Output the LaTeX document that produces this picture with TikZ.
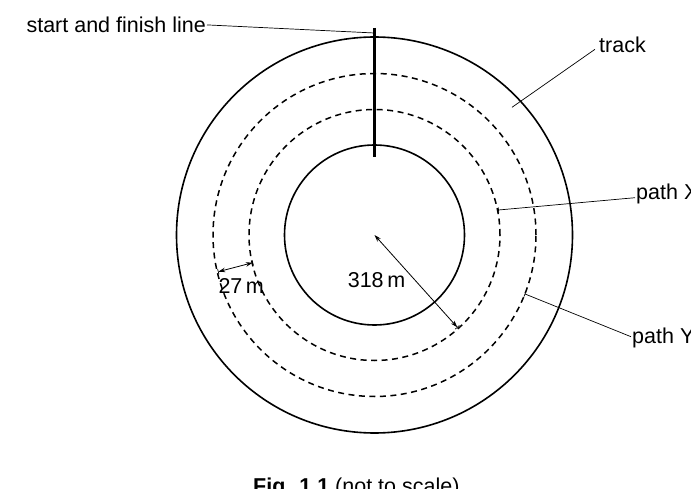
\documentclass[tikz,border=0pt]{standalone}
\usepackage{fontspec}
\setmainfont{Liberation Sans}
\usetikzlibrary{arrows.meta,calc}
\begin{document}
\begin{tikzpicture}[x=1pt,y=-1pt,
  ring/.style={line width=1.6pt},
  pathring/.style={line width=1.5pt, dash pattern=on 6pt off 4.5pt},
  leader/.style={line width=0.7pt},
  dimarrow/.style={line width=0.8pt, {Stealth[length=7pt,width=4.5pt]}-{Stealth[length=7pt,width=4.5pt]}},
  lbl/.style={font=\fontsize{21.5}{24}\selectfont, inner sep=0pt, text depth=0pt},
]
\useasboundingbox (0,0) rectangle (691,489);
\coordinate (c) at (374.5,235);
% circles
\draw[ring] (c) circle[radius=198pt];
\draw[ring] (c) circle[radius=90pt];
\draw[pathring] (c) circle[radius=161.5pt];
\draw[pathring] (c) circle[radius=125.5pt];
% start and finish line
\coordinate (st) at (374.5,28);
\coordinate (sb) at (374.5,157);
\draw[line width=2.2pt] (st) -- (sb);
% labels
\node[lbl, anchor=base east, inner xsep=1pt] (sfl) at (207,32.7) {start and finish line};
\node[lbl, anchor=base west] (track) at (599,52.7) {track};
\node[lbl, anchor=base west] (px) at (636,200) {path X};
\node[lbl, anchor=base west] (py) at (632,343) {path Y};
\node[lbl, anchor=base west] (l27) at (218.3,293.3) {27\,m};
\node[lbl, anchor=base] (l318) at (376.5,287.7) {318\,m};
\node[lbl, anchor=base west] (cap) at (253,493) {\textbf{Fig. 1.1} (not to scale)};
% leader end points
\coordinate (sflend) at (374.5,33);
\coordinate (trackend) at (512,107.3);
\coordinate (xend) at (498.5,210);
\coordinate (yend) at (525,294);
\draw[leader] (sfl.east) -- (sflend);
\draw[leader] ([shift={(-4pt,3.4pt)}]track.base west) -- (trackend);
\draw[leader] ([shift={(-1pt,2.3pt)}]px.base west) coordinate (xstart) -- (xend);
\draw[leader] ([shift={(-1pt,6.3pt)}]py.base west) coordinate (ystart) -- (yend);
\draw[leader] ($(xend)!2.7pt!90:(xstart)$) -- ($(xend)!2.7pt!-90:(xstart)$);
\draw[leader] ($(yend)!2.7pt!90:(ystart)$) -- ($(yend)!2.7pt!-90:(ystart)$);
% 27 m dimension
\coordinate (a1) at (218.3,271.7);
\coordinate (a2) at (252.7,262.7);
\draw[dimarrow] (a1) -- (a2);
\draw[leader] ($(a1)!2.7pt!90:(a2)$) -- ($(a1)!2.7pt!-90:(a2)$);
\draw[leader] ($(a2)!2.7pt!90:(a1)$) -- ($(a2)!2.7pt!-90:(a1)$);
% 318 m dimension
\coordinate (r1) at (457.3,327.3);
\draw[dimarrow] (c) -- (r1);
\draw[leader] ($(r1)!2.7pt!90:(c)$) -- ($(r1)!2.7pt!-90:(c)$);
\end{tikzpicture}
\end{document}
